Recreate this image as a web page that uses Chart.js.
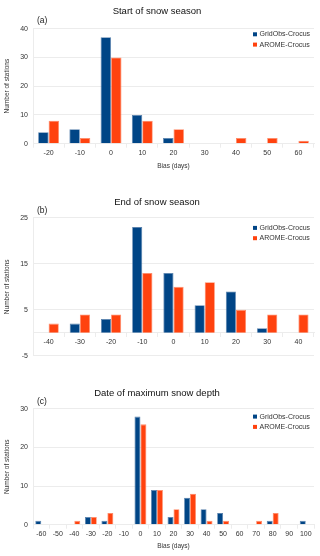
<!DOCTYPE html>
<html>
<head>
<meta charset="utf-8">
<script src="https://cdn.jsdelivr.net/npm/chart.js@4.4.1/dist/chart.umd.min.js"></script>
<style>
  html, body { margin: 0; padding: 0; background: #fff; }
  #wrap { position: relative; width: 320px; height: 556px; overflow: hidden; }
  canvas { position: absolute; left: 0; }
</style>
</head>
<body>
<div id="wrap">
  <canvas id="startChart" width="320" height="180" style="top:0px"></canvas>
  <canvas id="endChart" width="320" height="185" style="top:180px"></canvas>
  <canvas id="maxChart" width="320" height="191" style="top:365px"></canvas>
</div>
<script>
// series names
const seriesNames = ['GridObs-Crocus', 'AROME-Crocus'];

// (a) start of snow season
const startBias = ['-20', '-10', '0', '10', '20', '30', '40', '50', '60'];
const startGrid = [4, 5, 37, 10, 2, 0, 0, 0, 0];
const startArome = [8, 2, 30, 8, 5, 0, 2, 2, 1];
const startTicks = [0, 10, 20, 30, 40];

// (b) end of snow season
const endBias = ['-40', '-30', '-20', '-10', '0', '10', '20', '30', '40'];
const endGrid = [0, 2, 3, 23, 13, 6, 9, 1, 0];
const endArome = [2, 4, 4, 13, 10, 11, 5, 4, 4];
const endTicks = [-5, 5, 15, 25];

// (c) date of maximum snow depth
const maxBias = ['-60', '-50', '-40', '-30', '-20', '-10', '0', '10', '20', '30', '40', '50', '60', '70', '80', '90', '100'];
const maxGrid = [1, 0, 0, 2, 1, 0, 28, 9, 2, 7, 4, 3, 0, 0, 1, 0, 1];
const maxArome = [0, 0, 1, 2, 3, 0, 26, 9, 4, 8, 1, 1, 0, 1, 3, 0, 0];
const maxTicks = [0, 10, 20, 30];

const BLUE = '#004586';
const ORANGE = '#ff420e';
const FAINT = '#ececec';

Chart.defaults.font.family = '"Liberation Sans", Arial, sans-serif';
Chart.defaults.color = '#333';

// panel tag "(a)" and the little legend in the upper right corner
const panelDecor = {
  id: 'panelDecor',
  afterDraw(chart, args, opts) {
    const ctx = chart.ctx;
    const area = chart.chartArea;
    ctx.save();
    ctx.fillStyle = '#222';
    ctx.font = '8.5px "Liberation Sans", Arial, sans-serif';
    ctx.textBaseline = 'middle';
    ctx.textAlign = 'left';
    ctx.fillText(opts.tag, area.left + 4, area.top - 7.5);

    ctx.font = '7px "Liberation Sans", Arial, sans-serif';
    chart.data.datasets.forEach(function(ds, i) {
      const y = area.top + opts.legendTop + i * 10.3;
      const x = area.right - 61;
      ctx.fillStyle = ds.backgroundColor;
      ctx.fillRect(x, y - 2, 4, 4);
      ctx.fillStyle = '#333';
      ctx.fillText(ds.label, x + 6.5, y);
    });
    ctx.restore();
  }
};

function makePanel(id, p) {
  const ctx = document.getElementById(id).getContext('2d');
  return new Chart(ctx, {
    type: 'bar',
    data: {
      labels: p.labels,
      datasets: [{
        label: seriesNames[0],
        data: p.grid,
        backgroundColor: BLUE,
        borderColor: '#5a82ad',
        borderWidth: 0.8,
        barPercentage: 1,
        categoryPercentage: p.catPct
      }, {
        label: seriesNames[1],
        data: p.arome,
        backgroundColor: ORANGE,
        borderColor: '#ff8a68',
        borderWidth: 0.8,
        barPercentage: 1,
        categoryPercentage: p.catPct
      }]
    },
    options: {
      responsive: false,
      animation: false,
      layout: { padding: { left: 0, right: 6, top: 0, bottom: 0 } },
      plugins: {
        legend: { display: false },
        tooltip: { enabled: false },
        title: {
          display: true,
          text: p.title,
          color: '#111',
          font: { size: 9.5, weight: 'normal' },
          padding: { top: p.titleTop, bottom: p.titleBottom }
        },
        panelDecor: { tag: p.tag, legendTop: p.legendTop }
      },
      scales: {
        x: {
          position: p.xPos,
          offset: true,
          grid: {
            display: true,
            drawOnChartArea: false,
            drawTicks: true,
            tickLength: 4,
            color: FAINT,
            offset: true
          },
          border: { display: true, color: FAINT },
          ticks: {
            padding: 1,
            font: { size: 7 },
            color: '#333',
            autoSkip: false,
            maxRotation: 0,
            minRotation: 0
          },
          title: {
            display: true,
            text: 'Bias (days)',
            font: { size: 6.5 },
            color: '#333',
            padding: { top: 0, bottom: p.xTitlePad }
          },
          afterFit: function(s) { s.height = p.xHeight; }
        },
        y: {
          min: p.yTicks[0],
          max: p.yTicks[p.yTicks.length - 1],
          afterBuildTicks: function(s) {
            s.ticks = p.yTicks.map(function(v) { return { value: v }; });
          },
          grid: { color: FAINT, drawTicks: false },
          border: { display: true, color: FAINT },
          ticks: { padding: 5, font: { size: 7 }, color: '#333' },
          title: {
            display: true,
            text: 'Number of stations',
            font: { size: 6.5 },
            color: '#333',
            padding: { top: 3.6, bottom: 0 }
          },
          afterFit: function(s) { s.width = 33; }
        }
      }
    },
    plugins: [panelDecor]
  });
}

document.addEventListener("DOMContentLoaded", function() {
  makePanel('startChart', {
    labels: startBias, grid: startGrid, arome: startArome, yTicks: startTicks,
    title: 'Start of snow season', tag: '(a)',
    titleTop: 5.6, titleBottom: 11.6, xPos: 'bottom', xHeight: 36.3, xTitlePad: 10.1,
    legendTop: 5.7, catPct: 0.67
  });
  makePanel('endChart', {
    labels: endBias, grid: endGrid, arome: endArome, yTicks: endTicks,
    title: 'End of snow season', tag: '(b)',
    titleTop: 16.6, titleBottom: 9.9, xPos: { y: 0 }, xHeight: 21.3, xTitlePad: -17.7,
    legendTop: 10, catPct: 0.65
  });
  makePanel('maxChart', {
    labels: maxBias, grid: maxGrid, arome: maxArome, yTicks: maxTicks,
    title: 'Date of maximum snow depth', tag: '(c)',
    titleTop: 22.3, titleBottom: 10.2, xPos: 'bottom', xHeight: 31.3, xTitlePad: 5.4,
    legendTop: 7.7, catPct: 0.72
  });
});
</script>
</body>
</html>
